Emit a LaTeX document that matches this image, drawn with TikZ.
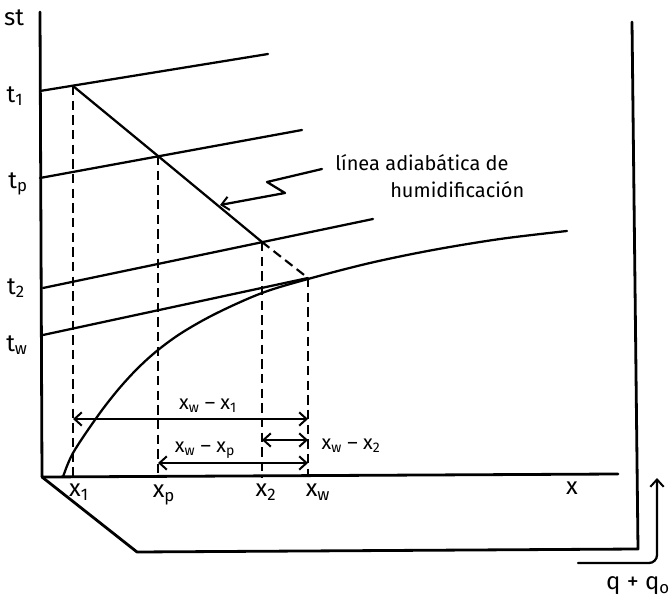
\documentclass[tikz,border=0pt]{standalone}
\usepackage{fontspec}
\setmainfont{Fira Sans}
\usetikzlibrary{arrows.meta}
\begin{document}
\begin{tikzpicture}[x=0.75pt,y=-0.75pt,
  line/.style={line width=1.7pt, line cap=round},
  axis/.style={line width=2.1pt, line cap=round, line join=round},
  guide/.style={line width=1.6pt, dash pattern=on 7pt off 4pt},
  barb/.tip={Straight Barb[length=5.5pt,width=10pt,line width=1.5pt]},
  dimarrow/.style={line width=1.6pt, barb-barb},
  lab/.style={font=\fontsize{18}{20}\selectfont, inner sep=0pt},
  txt/.style={font=\fontsize{15}{17}\selectfont, inner sep=0pt}
]
\useasboundingbox (0,0) rectangle (671,598);
% frame / axes
\coordinate (O) at (42,477);
\coordinate (Ytop) at (40,12);
\coordinate (Xend) at (618,474);
\coordinate (B1) at (137,552);
\coordinate (B2) at (638,549);
\coordinate (Rtop) at (632,22);
\draw[axis] (Ytop) -- (O) -- (Xend);
\draw[axis] (O) -- (B1) -- (B2) -- (Rtop);
% isotherm lines
\coordinate (t1a) at (40,91);  \coordinate (t1b) at (268,54);
\coordinate (tpa) at (40,178); \coordinate (tpb) at (302,130);
\coordinate (t2a) at (43,288); \coordinate (t2b) at (373,219);
\coordinate (twa) at (43,335);
\coordinate (P1) at (73,86);
\coordinate (Pp) at (158,156);
\coordinate (P2) at (262,242);
\coordinate (W) at (308,278);
\draw[line] (t1a) -- (t1b);
\draw[line] (tpa) -- (tpb);
\draw[line] (t2a) -- (t2b);
\draw[line] (twa) -- (W);
% adiabatic line
\draw[line] (P1) -- (Pp) -- (P2);
\draw[guide] (P2) -- (W);
% saturation curve
\draw[line] plot[smooth, tension=0.55] coordinates {(63,477) (73,453) (97,417) (117,391) (137,369) (158,350) (183,332) (217,313) (262,293) (308,279) (370,263) (433,250) (500,239) (567,231)};
% dashed verticals
\draw[guide] (P1) -- (P1 |- O);
\draw[guide] (Pp) -- (Pp |- O);
\draw[guide] (P2) -- (P2 |- O);
\draw[guide] (W) -- (W |- O);
% dimension arrows
\coordinate (d1a) at (73,419);  \coordinate (d1b) at (308,419);
\coordinate (d2a) at (262,440); \coordinate (d2b) at (308,440);
\coordinate (d3a) at (158,463); \coordinate (d3b) at (308,463);
\draw[dimarrow] (d1a) -- (d1b);
\draw[dimarrow] (d2a) -- (d2b);
\draw[dimarrow] (d3a) -- (d3b);
\node[txt] (m1) at (208,406) {x\textsubscript{w} – x\textsubscript{1}};
\node[txt] (m2) at (351,446) {x\textsubscript{w} – x\textsubscript{2}};
\node[txt] (m3) at (205,450) {x\textsubscript{w} – x\textsubscript{p}};
% leader
\coordinate (L0) at (322,169);
\coordinate (L1) at (267,182);
\coordinate (L2) at (285,193);
\coordinate (L3) at (220,205);
\draw[line, line join=round, -barb] (L0) -- (L1) -- (L2) -- (L3);
\node[txt, anchor=west] (la) at (335,163) {línea adiabática de};
\node[txt, anchor=west] (lb) at (390,190) {humidificación};
% axis labels
\node[lab] (st) at (14,18) {st};
\node[lab] (lt1) at (15,96) {t\textsubscript{1}};
\node[lab] (ltp) at (18,184) {t\textsubscript{p}};
\node[lab] (lt2) at (16,288) {t\textsubscript{2}};
\node[lab] (ltw) at (17,345) {t\textsubscript{w}};
\node[lab] (lx1) at (79,492) {x\textsubscript{1}};
\node[lab] (lxp) at (164,495) {x\textsubscript{p}};
\node[lab] (lx2) at (266,492) {x\textsubscript{2}};
\node[lab] (lxw) at (318,492) {x\textsubscript{w}};
\node[lab] (lx) at (572,488) {x};
% q + q0 arrow
\coordinate (q0) at (578,563);
\coordinate (q1) at (657,563);
\coordinate (q2) at (657,478);
\draw[line, rounded corners=6pt, -barb] (q0) -- (q1) -- (q2);
\node[lab] (lq) at (638,586) {q + q\textsubscript{o}};
\end{tikzpicture}
\end{document}
